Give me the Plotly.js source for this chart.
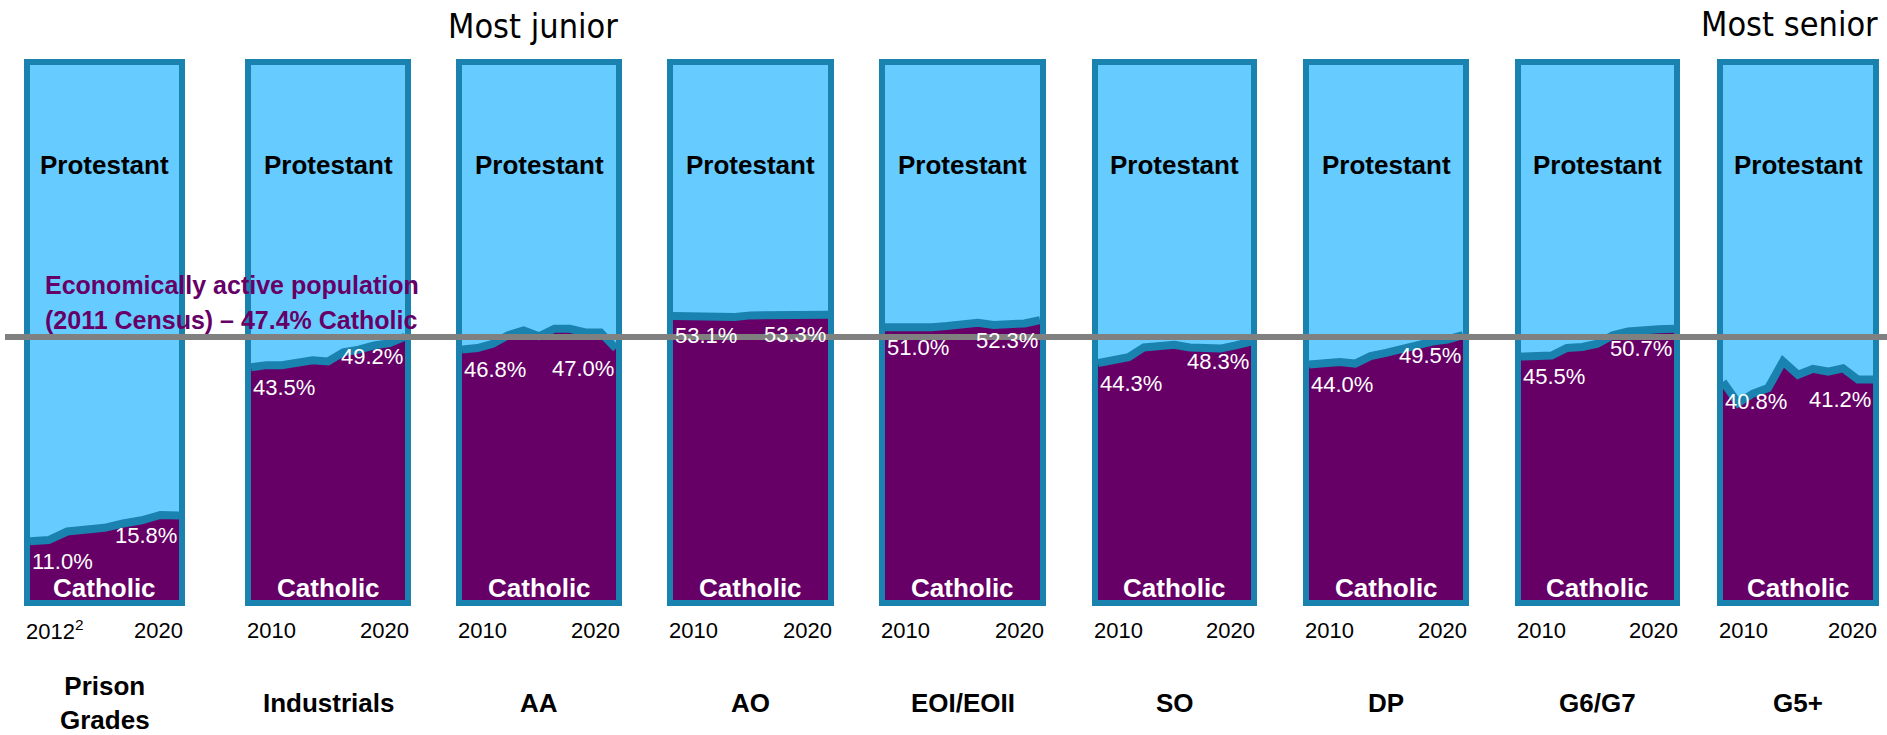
<!DOCTYPE html>
<html>
<head>
<meta charset="utf-8">
<script src="https://cdn.plot.ly/plotly-3.0.1.min.js"></script>
<style>
  html, body { margin: 0; padding: 0; background: #ffffff; }
  #plot { width: 1887px; height: 735px; }
</style>
</head>
<body>
<div id="plot"></div>
<script>
document.addEventListener("DOMContentLoaded", function(event) {

  // grades, most junior to most senior (prison grades & industrials first)
  const panelNames = ['Prison<br>Grades', 'Industrials', 'AA', 'AO', 'EOI/EOII', 'SO', 'DP', 'G6/G7', 'G5+'];

  const prisonYears = [2012, 2013, 2014, 2015, 2016, 2017, 2018, 2019, 2020];
  const years = [2010, 2011, 2012, 2013, 2014, 2015, 2016, 2017, 2018, 2019, 2020];

  const startLabels = ['2012<sup>2</sup>', '2010', '2010', '2010', '2010', '2010', '2010', '2010', '2010'];
  const endLabels = ['2020', '2020', '2020', '2020', '2020', '2020', '2020', '2020', '2020'];

  // % Catholic in each grade
  const prisonGrades = [11.0, 11.2, 12.8, 13.0, 13.5, 14.3, 14.9, 15.9, 15.8];
  const industrials = [43.5, 43.9, 43.9, 44.3, 44.8, 44.6, 46.3, 46.8, 47.6, 48.0, 49.2];
  const aa = [46.8, 47.1, 47.9, 49.5, 50.4, 49.3, 50.7, 50.7, 50.0, 50.0, 47.0];
  const ao = [53.1, 53.0, 52.9, 52.8, 52.9, 53.2, 53.2, 53.3, 53.5, 53.4, 53.3];
  const eoi = [51.0, 50.9, 50.9, 51.0, 51.2, 51.4, 51.8, 51.4, 51.5, 51.7, 52.3];
  const so = [44.3, 44.8, 45.4, 47.2, 47.5, 47.7, 47.2, 47.2, 47.0, 47.6, 48.3];
  const dp = [44.0, 44.3, 44.5, 44.2, 45.6, 46.2, 47.0, 47.8, 48.3, 48.7, 49.5];
  const g6g7 = [45.5, 45.7, 45.7, 47.1, 47.3, 47.9, 49.5, 50.2, 50.5, 50.6, 50.7];
  const g5plus = [40.8, 36.8, 38.6, 39.6, 44.6, 42.1, 43.2, 42.7, 43.3, 41.2, 41.2];

  const censusCatholic = 47.4;

  const series = [prisonGrades, industrials, aa, ao, eoi, so, dp, g6g7, g5plus];
  const xValues = [prisonYears, years, years, years, years, years, years, years, years];

  // layout (pixels)
  const W = 1887, H = 735;
  const panelLeft = [30, 251, 462, 673, 885, 1098, 1309, 1521, 1723];
  const panelRight = [179, 405, 616, 828, 1040, 1251, 1463, 1674, 1873];
  const plotTop = 65, plotBottom = 600;
  const censusLineY = 337;

  const purple = '#660066';
  const lightBlue = '#66ccff';
  const teal = '#1a82ae';
  const font = 'Liberation Sans, Arial, sans-serif';
  const narrow = 'Liberation Sans Narrow, Arial Narrow, DejaVu Sans Condensed, sans-serif';

  const py = function(p) { return 1 - p / H; };

  const data = [];
  const annotations = [];
  const layout = {
    width: W,
    height: H,
    margin: {l: 0, r: 0, t: 0, b: 0},
    paper_bgcolor: '#ffffff',
    plot_bgcolor: lightBlue,
    showlegend: false,
    font: {family: font, color: '#000000'}
  };

  series.forEach(function(vals, i) {
    const n = i === 0 ? '' : String(i + 1);
    const xs = xValues[i];

    data.push({
      x: xs,
      y: vals,
      xaxis: 'x' + n,
      yaxis: 'y' + n,
      type: 'scatter',
      mode: 'lines',
      fill: 'tozeroy',
      fillcolor: purple,
      line: {color: teal, width: 8},
      name: 'Catholic',
      hoverinfo: 'skip'
    });

    layout['xaxis' + n] = {
      domain: [panelLeft[i] / W, panelRight[i] / W],
      range: [xs[0], xs[xs.length - 1]],
      anchor: 'y' + n,
      showgrid: false,
      zeroline: false,
      showticklabels: false,
      ticks: '',
      showline: true,
      linecolor: teal,
      linewidth: 6,
      mirror: true,
      fixedrange: true
    };
    layout['yaxis' + n] = {
      domain: [py(plotBottom), py(plotTop)],
      range: [0, 100],
      anchor: 'x' + n,
      showgrid: false,
      zeroline: false,
      showticklabels: false,
      ticks: '',
      showline: true,
      linecolor: teal,
      linewidth: 6,
      mirror: true,
      fixedrange: true
    };

    // first and last value labels
    annotations.push({
      xref: 'x' + n, yref: 'y' + n,
      x: xs[0], y: vals[0],
      xanchor: 'left', yanchor: 'middle', yshift: -20,
      text: vals[0].toFixed(1) + '%',
      showarrow: false,
      font: {family: font, size: 22, color: '#ffffff'}
    });
    annotations.push({
      xref: 'x' + n, yref: 'y' + n,
      x: xs[xs.length - 1], y: vals[vals.length - 1],
      xanchor: 'right', yanchor: 'middle', yshift: -20,
      text: vals[vals.length - 1].toFixed(1) + '%',
      showarrow: false,
      font: {family: font, size: 22, color: '#ffffff'}
    });

    // area names
    annotations.push({
      xref: 'x' + n + ' domain', yref: 'paper',
      x: 0.5, y: py(165),
      xanchor: 'center', yanchor: 'middle',
      text: '<b>Protestant</b>',
      showarrow: false,
      font: {family: font, size: 26, color: '#000000'}
    });
    annotations.push({
      xref: 'x' + n + ' domain', yref: 'paper',
      x: 0.5, y: py(588),
      xanchor: 'center', yanchor: 'middle',
      text: '<b>Catholic</b>',
      showarrow: false,
      font: {family: font, size: 26, color: '#ffffff'}
    });

    // year labels under each panel
    annotations.push({
      xref: 'x' + n + ' domain', yref: 'paper',
      x: 0, y: py(630), xshift: -6,
      xanchor: 'left', yanchor: 'middle',
      text: startLabels[i],
      showarrow: false,
      font: {family: font, size: 22, color: '#000000'}
    });
    annotations.push({
      xref: 'x' + n + ' domain', yref: 'paper',
      x: 1, y: py(630), xshift: 6,
      xanchor: 'right', yanchor: 'middle',
      text: endLabels[i],
      showarrow: false,
      font: {family: font, size: 22, color: '#000000'}
    });

    // grade name
    annotations.push({
      xref: 'x' + n + ' domain', yref: 'paper',
      x: 0.5, y: py(703),
      xanchor: 'center', yanchor: 'middle',
      text: '<b>' + panelNames[i] + '</b>',
      showarrow: false,
      font: {family: font, size: 26, color: '#000000'}
    });
  });

  annotations.push({
    xref: 'paper', yref: 'paper',
    x: 533 / W, y: py(26),
    xanchor: 'center', yanchor: 'middle',
    text: 'Most junior',
    showarrow: false,
    font: {family: narrow, size: 34, color: '#000000'}
  });
  annotations.push({
    xref: 'paper', yref: 'paper',
    x: 1880 / W, y: py(24),
    xanchor: 'right', yanchor: 'middle',
    text: 'Most senior',
    showarrow: false,
    font: {family: narrow, size: 34, color: '#000000'}
  });

  annotations.push({
    xref: 'paper', yref: 'paper',
    x: 43 / W, y: py(285),
    xanchor: 'left', yanchor: 'middle',
    text: '<b>Economically active population</b>',
    showarrow: false,
    font: {family: font, size: 25, color: purple}
  });
  annotations.push({
    xref: 'paper', yref: 'paper',
    x: 43 / W, y: py(320),
    xanchor: 'left', yanchor: 'middle',
    text: '<b>(2011 Census) – ' + censusCatholic.toFixed(1) + '% Catholic</b>',
    showarrow: false,
    font: {family: font, size: 25, color: purple}
  });

  layout.annotations = annotations;
  layout.shapes = [{
    type: 'line',
    xref: 'paper', yref: 'paper',
    x0: 5 / W, x1: 1,
    y0: py(censusLineY), y1: py(censusLineY),
    line: {color: '#808080', width: 6},
    layer: 'above'
  }];

  Plotly.newPlot('plot', data, layout, {displayModeBar: false, staticPlot: true});

});
</script>
</body>
</html>
